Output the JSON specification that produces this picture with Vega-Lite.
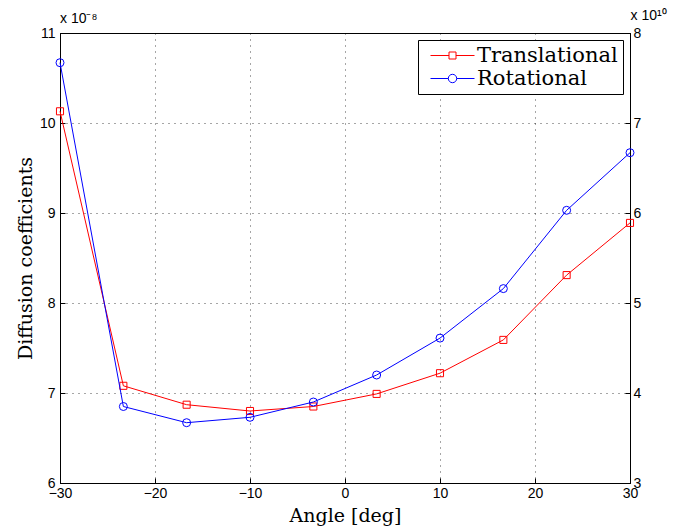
{
  "$schema": "https://vega.github.io/schema/vega-lite/v6.json",
  "autosize": "none",
  "padding": {"left": 60, "top": 33, "right": 59, "bottom": 48},
  "width": 570,
  "height": 450,
  "background": "white",
  "title": {
    "text": "x 10⁻⁸",
    "anchor": "start",
    "frame": "group",
    "font": "Liberation Sans",
    "fontSize": 14,
    "fontWeight": "normal",
    "color": "#000",
    "offset": 0,
    "dy": 18
  },
  "config": {
    "view": {"stroke": "#000", "strokeWidth": 1},
    "axis": {
      "labelFont": "Liberation Sans",
      "labelFontSize": 14,
      "labelColor": "#000",
      "titleFont": "DejaVu Serif",
      "titleFontSize": 19,
      "titleFontWeight": "normal",
      "titleColor": "#000",
      "domainColor": "#000",
      "tickColor": "#000",
      "tickSize": -5,
      "labelPadding": 10,
      "gridColor": "#000",
      "gridOpacity": 0.7,
      "gridDash": [1, 5]
    },
    "legend": {
      "labelFont": "DejaVu Serif",
      "labelFontSize": 21,
      "labelColor": "#000"
    }
  },
  "encoding": {
    "x": {
      "field": "angle",
      "type": "quantitative",
      "scale": {"domain": [-30, 30], "nice": false},
      "axis": {"values": [-30, -20, -10, 0, 10, 20, 30], "title": "Angle [deg]", "titlePadding": 6, "labelPadding": 8, "labelFlush": false}
    },
    "color": {
      "field": "series",
      "type": "nominal",
      "scale": {"domain": ["Translational", "Rotational"], "range": ["#ff0000", "#0000ff"]},
      "legend": {
        "title": null,
        "orient": "top-right",
        "offset": 7,
        "strokeColor": "#000",
        "fillColor": "white",
        "padding": 5,
        "rowPadding": 1,
        "symbolSize": 400,
        "symbolOffset": 19,
        "symbolStrokeWidth": 1,
        "labelOffset": 14,
        "encode": {
          "symbols": {
            "update": {
              "shape": {"signal": "datum.value === 'Translational' ? 'M -2.2 0 L -0.35 0 M 0.35 0 L 2.2 0 M -0.35 -0.35 L 0.35 -0.35 L 0.35 0.35 L -0.35 0.35 Z' : 'M -2.2 0 L -0.42 0 M 0.42 0 L 2.2 0 M -0.42 0 A 0.42 0.42 0 1 1 0.42 0 A 0.42 0.42 0 1 1 -0.42 0'"},
              "fill": {"value": "transparent"},
              "strokeWidth": {"value": 1}
            }
          }
        }
      }
    }
  },
  "layer": [
    {
      "data": {"values": [
        {"angle": -30, "series": "Translational", "value": 10.13},
        {"angle": -23.33, "series": "Translational", "value": 7.08},
        {"angle": -16.67, "series": "Translational", "value": 6.87},
        {"angle": -10, "series": "Translational", "value": 6.80},
        {"angle": -3.33, "series": "Translational", "value": 6.85},
        {"angle": 3.33, "series": "Translational", "value": 6.99},
        {"angle": 10, "series": "Translational", "value": 7.22},
        {"angle": 16.67, "series": "Translational", "value": 7.59},
        {"angle": 23.33, "series": "Translational", "value": 8.31},
        {"angle": 30, "series": "Translational", "value": 8.89}
      ]},
      "mark": {"type": "line", "strokeWidth": 1, "point": {"shape": "square", "filled": false, "size": 50, "strokeWidth": 1}},
      "encoding": {
        "y": {
          "field": "value",
          "type": "quantitative",
          "scale": {"domain": [6, 11], "nice": false},
          "axis": {"values": [6, 7, 8, 9, 10, 11], "title": "Diffusion coefficients", "titlePadding": 4, "orient": "left"}
        }
      }
    },
    {
      "data": {"values": [
        {"angle": -30, "series": "Rotational", "value": 7.67},
        {"angle": -23.33, "series": "Rotational", "value": 3.85},
        {"angle": -16.67, "series": "Rotational", "value": 3.67},
        {"angle": -10, "series": "Rotational", "value": 3.73},
        {"angle": -3.33, "series": "Rotational", "value": 3.90},
        {"angle": 3.33, "series": "Rotational", "value": 4.20},
        {"angle": 10, "series": "Rotational", "value": 4.61},
        {"angle": 16.67, "series": "Rotational", "value": 5.16},
        {"angle": 23.33, "series": "Rotational", "value": 6.03},
        {"angle": 30, "series": "Rotational", "value": 6.67}
      ]},
      "mark": {"type": "line", "strokeWidth": 1, "point": {"shape": "circle", "filled": false, "size": 64, "strokeWidth": 1}},
      "encoding": {
        "y": {
          "field": "value",
          "type": "quantitative",
          "scale": {"domain": [3, 8], "nice": false},
          "axis": {
            "values": [3, 4, 5, 6, 7, 8],
            "orient": "right",
            "grid": false,
            "labelPadding": 8,
            "title": "x 10¹⁰",
            "titleFont": "Liberation Sans",
            "titleFontSize": 14,
            "titleAngle": 0,
            "titleAlign": "left",
            "titleBaseline": "alphabetic",
            "titleX": 0,
            "titleY": -14
          }
        }
      }
    }
  ],
  "resolve": {"scale": {"y": "independent"}}
}
